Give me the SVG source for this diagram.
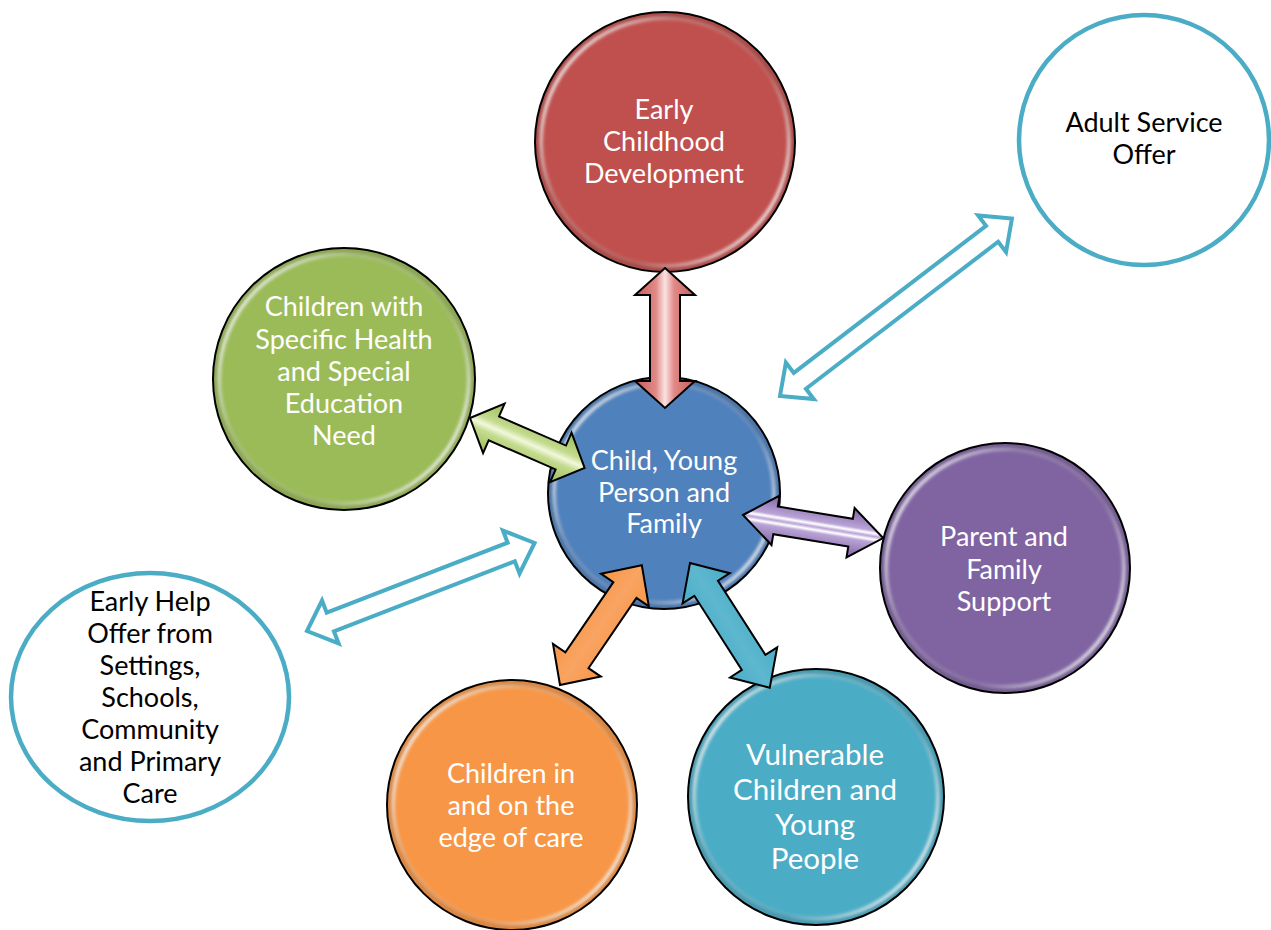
<svg xmlns="http://www.w3.org/2000/svg" width="1271" height="930" viewBox="0 0 1271 930">
  <style>
    .lbl { font-family: Lato, "Open Sans", "Liberation Sans", sans-serif; font-size: 27px; text-anchor: middle; fill: #ffffff; }
    .dark { fill: #000000; }
    .big { font-size: 29.5px; }
    .rim { fill: none; stroke: #000000; stroke-width: 2; }
    .gloss { fill: none; stroke: url(#ringGrad); stroke-width: 4; filter: url(#soft); }
    .shade { fill: none; stroke: #000000; stroke-opacity: 0.15; stroke-width: 6; filter: url(#soft); }
    .plain { fill: #ffffff; stroke: #4BACC6; stroke-width: 4.5; }
    .arrow { stroke: #000000; stroke-width: 2; stroke-linejoin: miter; }
    .hollow { fill: #ffffff; stroke: #4BACC6; stroke-width: 4; stroke-linejoin: miter; }
  </style>
  <defs>
    <filter id="soft" x="-10%" y="-10%" width="120%" height="120%">
      <feGaussianBlur stdDeviation="1.6"/>
    </filter>
    <linearGradient id="ringGrad" x1="0" y1="0.15" x2="1" y2="0.85">
      <stop offset="0" stop-color="#ffffff" stop-opacity="0.95"/>
      <stop offset="0.3" stop-color="#ffffff" stop-opacity="0.25"/>
      <stop offset="0.65" stop-color="#ffffff" stop-opacity="0.15"/>
      <stop offset="1" stop-color="#ffffff" stop-opacity="0.95"/>
    </linearGradient>
    <!-- shaft highlights run along each arrow's length -->
    <linearGradient id="gRed" x1="0" y1="0" x2="0" y2="1">
      <stop offset="0" stop-color="#C95A58"/>
      <stop offset="0.35" stop-color="#E08A88"/>
      <stop offset="0.5" stop-color="#FBE3E2"/>
      <stop offset="0.65" stop-color="#E08A88"/>
      <stop offset="1" stop-color="#C95A58"/>
    </linearGradient>
    <linearGradient id="gGreen" x1="0" y1="0" x2="0" y2="1">
      <stop offset="0" stop-color="#9BBB59"/>
      <stop offset="0.38" stop-color="#C4DB8E"/>
      <stop offset="0.5" stop-color="#F1F8DC"/>
      <stop offset="0.62" stop-color="#C4DB8E"/>
      <stop offset="1" stop-color="#9BBB59"/>
    </linearGradient>
    <linearGradient id="gPurple" x1="0" y1="0" x2="0" y2="1">
      <stop offset="0" stop-color="#8064A2"/>
      <stop offset="0.38" stop-color="#B9A3D6"/>
      <stop offset="0.44" stop-color="#FFFFFF"/>
      <stop offset="0.5" stop-color="#B9A3D6"/>
      <stop offset="0.56" stop-color="#FFFFFF"/>
      <stop offset="0.62" stop-color="#B9A3D6"/>
      <stop offset="1" stop-color="#8064A2"/>
    </linearGradient>
    <linearGradient id="gOrange" x1="0" y1="0" x2="0" y2="1">
      <stop offset="0" stop-color="#F79646"/>
      <stop offset="0.5" stop-color="#F9A464"/>
      <stop offset="1" stop-color="#F79646"/>
    </linearGradient>
    <linearGradient id="gTeal" x1="0" y1="0" x2="0" y2="1">
      <stop offset="0" stop-color="#4BACC6"/>
      <stop offset="0.5" stop-color="#5DB8CF"/>
      <stop offset="1" stop-color="#4BACC6"/>
    </linearGradient>
  </defs>

  <rect width="1271" height="930" fill="#ffffff"/>

  <g id="nodes">
    <g id="node-early-childhood">
      <circle cx="665" cy="142" r="130" fill="#C0504D"/>
      <circle cx="665" cy="142" r="126" class="shade"/>
      <circle cx="665" cy="142" r="124" class="gloss"/>
      <circle cx="665" cy="142" r="130" class="rim"/>
      <text class="lbl"><tspan x="664" y="119">Early</tspan><tspan x="664" y="151">Childhood</tspan><tspan x="664" y="183">Development</tspan></text>
    </g>
    <g id="node-adult-service">
      <circle cx="1144" cy="140" r="125" class="plain"/>
      <text class="lbl dark"><tspan x="1144" y="132">Adult Service</tspan><tspan x="1144" y="164">Offer</tspan></text>
    </g>
    <g id="node-health-sen">
      <circle cx="344" cy="379" r="131" fill="#9BBB59"/>
      <circle cx="344" cy="379" r="127" class="shade"/>
      <circle cx="344" cy="379" r="125" class="gloss"/>
      <circle cx="344" cy="379" r="131" class="rim"/>
      <text class="lbl"><tspan x="344" y="316">Children with</tspan><tspan x="344" y="349">Specific Health</tspan><tspan x="344" y="381">and Special</tspan><tspan x="344" y="413">Education</tspan><tspan x="344" y="445">Need</tspan></text>
    </g>
    <g id="node-child-family">
      <circle cx="664" cy="493" r="116" fill="#4F81BD"/>
      <circle cx="664" cy="493" r="112" class="shade"/>
      <circle cx="664" cy="493" r="110" class="gloss"/>
      <circle cx="664" cy="493" r="116" class="rim"/>
      <text class="lbl"><tspan x="664" y="470">Child, Young</tspan><tspan x="664" y="502">Person and</tspan><tspan x="664" y="533">Family</tspan></text>
    </g>
    <g id="node-parent-support">
      <circle cx="1005" cy="568" r="125" fill="#8064A2"/>
      <circle cx="1005" cy="568" r="121" class="shade"/>
      <circle cx="1005" cy="568" r="119" class="gloss"/>
      <circle cx="1005" cy="568" r="125" class="rim"/>
      <text class="lbl"><tspan x="1004" y="546">Parent and</tspan><tspan x="1004" y="579">Family</tspan><tspan x="1004" y="611">Support</tspan></text>
    </g>
    <g id="node-early-help">
      <ellipse cx="150" cy="697" rx="139" ry="124" class="plain"/>
      <text class="lbl dark"><tspan x="150" y="611">Early Help</tspan><tspan x="150" y="643">Offer from</tspan><tspan x="150" y="675">Settings,</tspan><tspan x="150" y="707">Schools,</tspan><tspan x="150" y="739">Community</tspan><tspan x="150" y="771">and Primary</tspan><tspan x="150" y="803">Care</tspan></text>
    </g>
    <g id="node-vulnerable">
      <circle cx="816" cy="797" r="128" fill="#4BACC6"/>
      <circle cx="816" cy="797" r="124" class="shade"/>
      <circle cx="816" cy="797" r="122" class="gloss"/>
      <circle cx="816" cy="797" r="128" class="rim"/>
      <text class="lbl big"><tspan x="815" y="765">Vulnerable</tspan><tspan x="815" y="800">Children and</tspan><tspan x="815" y="835">Young</tspan><tspan x="815" y="869">People</tspan></text>
    </g>
    <g id="node-edge-of-care">
      <circle cx="512" cy="805" r="125" fill="#F79646"/>
      <circle cx="512" cy="805" r="121" class="shade"/>
      <circle cx="512" cy="805" r="119" class="gloss"/>
      <circle cx="512" cy="805" r="125" class="rim"/>
      <text class="lbl"><tspan x="511" y="783">Children in</tspan><tspan x="511" y="815">and on the</tspan><tspan x="511" y="847">edge of care</tspan></text>
    </g>
  </g>

  <g id="connectors">
    <!-- each double arrow is laid out along +x from its first tip, then placed -->
    <path class="arrow" fill="url(#gRed)" transform="translate(665,268) rotate(90)"
          d="M0,0 L27,-30 L27,-15 L113,-15 L113,-30 L140,0 L113,30 L113,15 L27,15 L27,30 Z"/>
    <path class="arrow" fill="url(#gGreen)" transform="translate(470,418) rotate(23.5)"
          d="M0,0 L26,-27 L26,-13 L99,-13 L99,-27 L125,0 L99,27 L99,13 L26,13 L26,27 Z"/>
    <path class="arrow" fill="url(#gPurple)" transform="translate(743,515) rotate(9.33)"
          d="M0,0 L33,-25 L33,-14 L109,-14 L109,-25 L142,0 L109,25 L109,14 L33,14 L33,25 Z"/>
    <path class="arrow" fill="url(#gOrange)" transform="translate(560,685) rotate(-55.65)"
          d="M0,0 L30,-29 L30,-14 L115,-14 L115,-29 L145,0 L115,29 L115,14 L30,14 L30,29 Z"/>
    <path class="arrow" fill="url(#gTeal)" transform="translate(690,563) rotate(57.38)"
          d="M0,0 L30,-28 L30,-14 L118,-14 L118,-28 L148,0 L118,28 L118,14 L30,14 L30,28 Z"/>
    <path class="hollow" transform="translate(780,396) rotate(-37.41)"
          d="M0,0 L25,-23 L25,-10 L267,-10 L267,-23 L292,0 L267,23 L267,10 L25,10 L25,23 Z"/>
    <path class="hollow" transform="translate(307,631) rotate(-21.15)"
          d="M0,0 L25,-23 L25,-10 L219,-10 L219,-23 L244,0 L219,23 L219,10 L25,10 L25,23 Z"/>
  </g>
</svg>
